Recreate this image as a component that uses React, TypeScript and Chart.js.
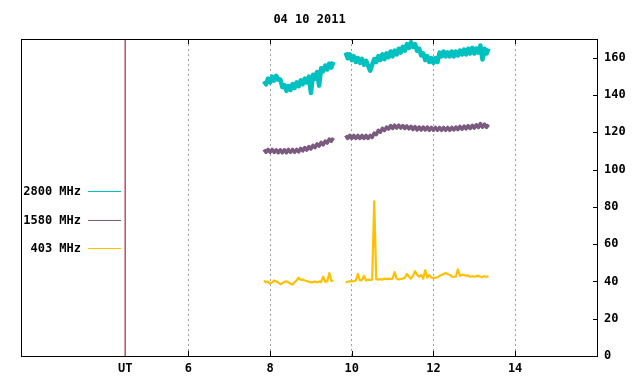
import React, { useEffect, useRef } from 'react';
import { Chart, registerables } from 'chart.js';

Chart.register(...registerables);

const TITLE = '04 10 2011';
const SERIES_LABELS = ['2800 MHz', '1580 MHz', '403 MHz'];
const SERIES_COLORS = ['#00c0c0', '#7a5a7e', '#ffc000'];
const SERIES_WIDTHS = [4.5, 3.5, 2.2];
const UT_COLOR = '#8b0000';
const X_TICKS = [6, 8, 10, 12, 14];
const Y_TICKS = [0, 20, 40, 60, 80, 100, 120, 140, 160];
const UT_HOUR = 4.45;
const X_MIN = 1.9;
const X_MAX = 16.03;
const Y_MIN = 0;
const Y_MAX = 170;

// sampling: two observing segments, one sample every 0.05 h
const SEG_A_START = 7.85;
const SEG_B_START = 9.85;
const STEP = 0.05;
const GAP_HOUR = 9.7;

const f2800A = [147.3, 145.7, 148.8, 146.7, 149.8, 147.7, 150.3, 148.2, 148.3, 144.2, 145.3, 142.2, 144.8, 142.7, 145.8, 143.7, 146.8, 144.7, 147.8, 145.7, 148.8, 146.7, 149.8, 141, 150.8, 148.7, 152.3, 145, 154.3, 152.7, 155.8, 153.7, 156.8, 154.7, 157.8];
const f2800B = [162.8, 159.7, 161.8, 158.7, 160.8, 157.7, 159.8, 157.2, 159.3, 156.2, 158.3, 155.7, 153, 156.2, 159.3, 157.7, 160.8, 158.7, 161.8, 159.2, 162.3, 160.2, 163.3, 160.7, 163.8, 161.7, 164.8, 162.7, 165.8, 163.7, 167.3, 165.2, 168.3, 165.7, 167.3, 163.7, 164.8, 161.2, 162.3, 158.7, 160.8, 157.7, 159.8, 157.2, 159.8, 157.7, 162.8, 160.7, 163.3, 160.7, 162.8, 160.7, 163.3, 160.7, 163.3, 161.2, 163.8, 161.7, 164.3, 161.7, 164.8, 162.2, 165.3, 162.2, 164.8, 162.7, 166.5, 159, 164.8, 162.2, 164.8];

const f1580A = [110.8, 109.2, 110.8, 109.2, 110.8, 109.2, 110.6, 109, 110.6, 109, 110.6, 109, 110.8, 109.2, 110.8, 109.2, 110.8, 109.5, 111.3, 110, 111.8, 110.4, 112.3, 111, 113, 111.7, 113.8, 112.5, 114.6, 113.2, 115.3, 114.2, 116.3, 115.2, 117];
const f1580B = [118.3, 116.7, 118.3, 116.7, 118.3, 116.7, 118.3, 116.7, 118.3, 116.7, 118.3, 116.7, 118.3, 117.2, 119.6, 118.7, 121, 120, 122.1, 120.9, 122.8, 121.7, 123.6, 122, 123.8, 122.2, 123.8, 122.2, 123.6, 122, 123.4, 121.8, 123.2, 121.4, 123, 121.2, 122.8, 121.2, 122.8, 121.2, 122.8, 121, 122.6, 121, 122.6, 121, 122.6, 121, 122.6, 121, 122.6, 121, 122.6, 121.2, 122.8, 121.4, 123.1, 121.6, 123.3, 121.8, 123.5, 122, 123.7, 122.2, 124, 122.5, 124.6, 122.7, 124.3, 122.6, 124.1];

const f403A = [40.5, 39.5, 40, 38.8, 39.5, 40.5, 40, 39.5, 38.5, 39, 39.8, 40, 39.5, 38.8, 38.3, 39.5, 40.5, 42, 40.8, 41, 40.5, 40.2, 39.8, 39.5, 39.6, 40, 39.5, 40, 39.6, 42.5, 39.8, 40, 44.5, 40.2, 40.5];
const f403B = [39.5, 39.8, 40, 40, 40.2, 40.5, 44, 40.5, 40.8, 43, 40.5, 41, 40.8, 41, 83, 41.2, 41, 41.2, 41, 41.5, 41.2, 41.5, 41.3, 41.5, 45, 41.5, 41, 41.3, 41.5, 42, 44, 42.5, 41.5, 43, 45.5, 43.5, 42.5, 43.5, 41.5, 46, 42, 43.5, 42, 41.8, 42, 42.2, 43, 43.5, 44, 44.5, 44, 43.5, 42.5, 42.5, 42.5, 46.5, 43, 43.5, 43.5, 43, 43.2, 42.5, 42.8, 42.5, 42.8, 43, 42.5, 42.3, 42.8, 42.5, 42.8];

const FONT_FAMILY = '"DejaVu Sans Mono", "Liberation Mono", monospace';
const FONT = 'bold 12px ' + FONT_FAMILY;

function buildSeries(a: number[], b: number[]) {
  const pts: { x: number; y: number | null }[] = [];
  a.forEach((v, i) => pts.push({ x: SEG_A_START + i * STEP, y: v }));
  pts.push({ x: GAP_HOUR, y: null });
  b.forEach((v, i) => pts.push({ x: SEG_B_START + i * STEP, y: v }));
  return pts;
}

const decorPlugin = {
  id: 'decor',
  afterDraw(chart: any) {
    const { ctx, chartArea } = chart;
    const { left, right, top, bottom } = chartArea;
    const xs = chart.scales.x;
    const ys = chart.scales.y;
    ctx.save();
    ctx.strokeStyle = '#000';
    ctx.lineWidth = 1;
    ctx.setLineDash([]);
    ctx.strokeRect(Math.round(left) + 0.5, Math.round(top) + 0.5, Math.round(right - left) - 1, Math.round(bottom - top));
    ctx.beginPath();
    X_TICKS.forEach((v) => {
      const px = Math.round(xs.getPixelForValue(v)) + 0.5;
      ctx.moveTo(px, bottom);
      ctx.lineTo(px, bottom - 5);
      ctx.moveTo(px, top);
      ctx.lineTo(px, top + 5);
    });
    Y_TICKS.forEach((v) => {
      const py = Math.round(ys.getPixelForValue(v)) + 0.5;
      ctx.moveTo(right, py);
      ctx.lineTo(right - 5, py);
    });
    ctx.stroke();
    ctx.fillStyle = '#000';
    ctx.font = FONT;
    ctx.textAlign = 'center';
    ctx.textBaseline = 'middle';
    ctx.fillText(TITLE, (left + right) / 2, 19.5);
    const textRight = left + 60;
    let k = 0;
    chart.data.datasets.forEach((ds: any) => {
      if (!SERIES_LABELS.includes(ds.label)) return;
      const y = Math.round(top + 152 + k * 28.5) + 0.5;
      ctx.fillStyle = '#000';
      ctx.textAlign = 'right';
      ctx.fillText(ds.label, textRight, y);
      ctx.strokeStyle = ds.borderColor;
      ctx.lineWidth = 1;
      ctx.beginPath();
      ctx.moveTo(textRight + 7, y);
      ctx.lineTo(textRight + 40, y);
      ctx.stroke();
      k++;
    });
    ctx.restore();
  },
};

export default function App() {
  const ref = useRef<HTMLCanvasElement | null>(null);
  useEffect(() => {
    if (!ref.current) return;
    const seriesA = [f2800A, f1580A, f403A];
    const seriesB = [f2800B, f1580B, f403B];
    const datasets: any[] = SERIES_LABELS.map((label, i) => ({
      label,
      data: buildSeries(seriesA[i], seriesB[i]),
      borderColor: SERIES_COLORS[i],
      backgroundColor: SERIES_COLORS[i],
      borderWidth: SERIES_WIDTHS[i],
      borderJoinStyle: 'round',
      borderCapStyle: 'butt',
      pointRadius: 0,
      spanGaps: false,
      tension: 0,
    }));
    datasets.push({
      label: 'UT',
      data: [
        { x: UT_HOUR, y: Y_MIN },
        { x: UT_HOUR, y: Y_MAX },
      ],
      borderColor: UT_COLOR,
      borderWidth: 1,
      pointRadius: 0,
    });
    const chart = new Chart(ref.current, {
      type: 'line',
      data: { datasets },
      options: {
        animation: false,
        responsive: false,
        devicePixelRatio: 1,
        layout: { padding: { left: 21, top: 39, right: 0, bottom: 0 } },
        plugins: {
          legend: { display: false },
          title: { display: false },
          tooltip: { enabled: false },
        },
        scales: {
          x: {
            type: 'linear',
            min: X_MIN,
            max: X_MAX,
            afterBuildTicks: (scale: any) => {
              scale.ticks = [UT_HOUR, ...X_TICKS].map((v) => ({ value: v }));
            },
            afterFit: (scale: any) => {
              scale.height = 28;
            },
            grid: {
              drawTicks: false,
              color: (c: any) => (c.tick && c.tick.value === UT_HOUR ? 'rgba(0,0,0,0)' : '#a0a0a0'),
              lineWidth: 1,
            },
            border: { display: false, dash: [2, 3] },
            ticks: {
              autoSkip: false,
              maxRotation: 0,
              padding: 6,
              color: '#000',
              font: { family: FONT_FAMILY, size: 12, weight: 'bold' },
              callback: (v: any) => (v === UT_HOUR ? 'UT' : String(v)),
            },
          },
          y: {
            type: 'linear',
            position: 'right',
            min: Y_MIN,
            max: Y_MAX,
            afterBuildTicks: (scale: any) => {
              scale.ticks = Y_TICKS.map((v) => ({ value: v }));
            },
            afterFit: (scale: any) => {
              scale.width = 42;
            },
            grid: { display: false, drawTicks: false },
            border: { display: false },
            ticks: {
              padding: 6,
              color: '#000',
              font: { family: FONT_FAMILY, size: 12, weight: 'bold' },
            },
          },
        },
      },
      plugins: [decorPlugin],
    } as any);
    return () => chart.destroy();
  }, []);
  return (
    <div style={{ position: 'fixed', left: 0, top: 0, width: 640, height: 384, background: '#fff' }}>
      <canvas ref={ref} width={640} height={384} style={{ display: 'block' }} />
    </div>
  );
}
